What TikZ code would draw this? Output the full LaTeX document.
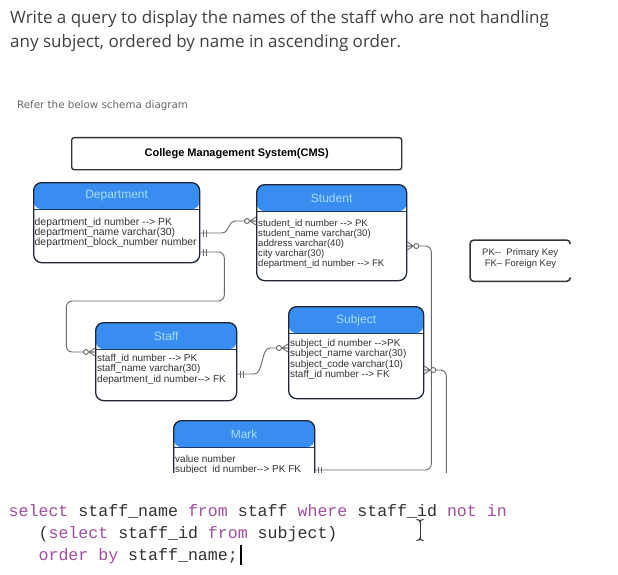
\documentclass[tikz,border=0pt]{standalone}
\usepackage{fontspec}
\setmainfont{Liberation Sans}
\newfontfamily\qfont{Open Sans}
\newfontfamily\codefont{Liberation Mono}
\newfontfamily\smallfont{DejaVu Sans}
\usetikzlibrary{calc}
\definecolor{hdrblue}{HTML}{3A8DF0}
\definecolor{hdrtext}{HTML}{A6DBFF}
\definecolor{boxline}{HTML}{1E2733}
\definecolor{hdrline}{HTML}{1B3A6B}
\definecolor{connc}{HTML}{6A6A6A}
\definecolor{kwc}{HTML}{A0509C}
\definecolor{codetext}{HTML}{333333}
\definecolor{qtext}{HTML}{404040}
\newcommand\kw[1]{\textcolor{kwc}{#1}}
\newcommand\arr{-{}->}
\tikzset{
  entity/.style={draw=boxline, line width=1.3bp, rounded corners=8bp, inner sep=0pt,
    anchor=north west, fill=white,
    path picture={\fill[hdrblue] (path picture bounding box.north west) rectangle
        ([yshift=-26.5bp]path picture bounding box.north east);
      \draw[hdrline, line width=1.3bp] ([yshift=-26.5bp]path picture bounding box.north west)
        -- ([yshift=-26.5bp]path picture bounding box.north east);}},
  ttl/.style={text=hdrtext, font=\fontsize{12bp}{14bp}\selectfont, inner sep=0pt},
  body/.style={text=black!80, font=\fontsize{10bp}{10.3bp}\selectfont, inner sep=0pt,
    align=left, anchor=north west},
  conn/.style={draw=connc, line width=0.9bp},
  mkone/.pic={\draw[conn] (3,-3.5) -- (3,3.5) (6,-3.5) -- (6,3.5);},
  mkmany/.pic={\draw[conn] (0,-4) -- (6,0) -- (0,4) (0,0) -- (6,0);
    \draw[conn, fill=white] (9,0) circle[radius=2.5bp];},
  codestyle/.style={text=codetext, font=\codefont\fontsize{16.6bp}{22bp}\selectfont,
    inner sep=0pt, anchor=base west},
  qstyle/.style={text=qtext, font=\qfont\fontsize{17bp}{20bp}\selectfont, inner sep=0pt,
    anchor=base west},
}
\begin{document}
\begin{tikzpicture}[x=1bp, y=-1bp]
\useasboundingbox (0,0) rectangle (618,575);
\fill[white] (0,0) rectangle (618,575);

% question
\node[qstyle] (q1) at (10,24) {Write a query to display the names of the staff who are not handling};
\node[qstyle] (q2) at (10,48) {any subject, ordered by name in ascending order.};
\node[text=black!60, font=\smallfont\fontsize{10.3bp}{12bp}\selectfont, inner sep=0pt, anchor=base west]
  (refer) at (17,109) {Refer the below schema diagram};

\begin{scope}
\clip (0,120) rectangle (618,472.5);
% title box
\node[draw=black!80, line width=1.4bp, rounded corners=2.5bp, minimum width=330bp,
  minimum height=32bp, anchor=north west, inner sep=0pt,
  font=\bfseries\fontsize{11bp}{13bp}\selectfont] (cms) at (71,137) {College Management System(CMS)};

% entities
\node[entity, minimum width=166bp, minimum height=80bp] (dept) at (33,182) {};
\node[entity, minimum width=150bp, minimum height=96bp] (student) at (256,184) {};
\node[entity, minimum width=141bp, minimum height=78bp] (staff) at (95,322) {};
\node[entity, minimum width=135bp, minimum height=92bp] (subject) at (288,306) {};
\node[entity, minimum width=141bp, minimum height=80bp] (mark) at (173,420) {};

\node[ttl] (deptT) at ($(dept.north)+(0,14)$) {Department};
\node[ttl] (studentT) at ($(student.north)+(0,14)$) {Student};
\node[ttl] (staffT) at ($(staff.north)+(0,14)$) {Staff};
\node[ttl] (subjectT) at ($(subject.north)+(0,14)$) {Subject};
\node[ttl] (markT) at ($(mark.north)+(0,14)$) {Mark};

\node[body, font=\fontsize{10.4bp}{10bp}\selectfont] (deptB) at ($(dept.north west)+(1.5,36)$)
  {department\_id number \arr{} PK\\department\_name varchar(30)\\department\_block\_number number};
\node[body, font=\fontsize{9.6bp}{10.2bp}\selectfont] (studentB) at ($(student.north west)+(2,35)$)
  {student\_id number \arr{} PK\\student\_name varchar(30)\\address varchar(40)\\city varchar(30)\\department\_id number \arr{} FK};
\node[body] (staffB) at ($(staff.north west)+(2,32)$)
  {staff\_id number \arr{} PK\\staff\_name varchar(30)\\department\_id number\arr{} FK};
\node[body] (subjectB) at ($(subject.north west)+(2,33)$)
  {subject\_id number \arr{}PK\\subject\_name varchar(30)\\subject\_code varchar(10)\\staff\_id number \arr{} FK};
\node[body] (markB) at ($(mark.north west)+(2,35)$)
  {value number\\subject\_id number\arr{} PK FK};

% connection points
\coordinate (d1) at ($(dept.north east)+(0,51)$);
\coordinate (d2) at ($(dept.north east)+(0,70)$);
\coordinate (s1) at ($(student.north west)+(0,37)$);
\coordinate (s2) at ($(student.north east)+(0,62)$);
\coordinate (st1) at ($(staff.north west)+(0,30)$);
\coordinate (st2) at ($(staff.north east)+(0,52)$);
\coordinate (su1) at ($(subject.north west)+(0,42)$);
\coordinate (su2) at ($(subject.north east)+(0,64)$);
\coordinate (m1) at ($(mark.north east)+(0,50)$);

% connectors
\draw[conn] (d1) -- ++(21,0) .. controls +(9,0) and +(-9,0) .. ($(s1)+(-20,0)$) -- (s1);
\draw[conn, rounded corners=6bp] (d2) -- ++(24,0) -- ++(0,49) -- ++(-158,0) |- (st1);
\draw[conn] (st2) -- ++(17,0) .. controls +(9,0) and +(-9,0) .. ($(su1)+(-18,0)$) -- (su1);
\draw[conn, rounded corners=6bp] (s2) -- ++(24,0) |- (m1);
\draw[conn, rounded corners=6bp] (su2) -- ++(22,0) -- ++(0,120);

% markers
\pic at (d1) {mkone};
\pic at (d2) {mkone};
\pic at (st2) {mkone};
\pic at (m1) {mkone};
\pic[rotate=180] at (s1) {mkmany};
\pic[rotate=180] at (st1) {mkmany};
\pic[rotate=180] at (su1) {mkmany};
\pic at (s2) {mkmany};
\pic at (su2) {mkmany};

% legend
\node[inner sep=0pt, minimum width=100bp, minimum height=41bp, anchor=north west] (legend) at (470,240) {};
\draw[draw=black!80, line width=1.5bp, rounded corners=4bp]
  ([yshift=-4bp]legend.north east) -- (legend.north east) -- (legend.north west)
  -- (legend.south west) -- (legend.south east) -- ([yshift=4bp]legend.south east);
\node[inner sep=0pt, anchor=north west, align=left, text=black!80,
  font=\fontsize{9.5bp}{11bp}\selectfont] (legendT) at ($(legend.north west)+(12,8)$)
  {PK-{}-\ \ Primary Key\\\ FK\textendash{} Foreign Key};
\end{scope}

% code
\node[codestyle] (code1) at (8.5,516) {\kw{select} staff\_name \kw{from} staff \kw{where} staff\_id \kw{not} \kw{in}};
\node[codestyle] (code2) at (8.5,538) {\phantom{xxx}(\kw{select} staff\_id \kw{from} subject)};
\node[codestyle] (code3) at (8.5,560) {\phantom{xxx}\kw{order} \kw{by} staff\_name;};
\draw[line width=1.5bp, black] ($(code3.base east)+(3,-15)$) -- ($(code3.base east)+(3,5)$);
% I-beam cursor
\draw[black!80, line width=1bp] (416.5,519.5) .. controls (419,519.5) and (420,520.5) .. (420,522)
  .. controls (420,520.5) and (421,519.5) .. (423.5,519.5);
\draw[black!80, line width=1bp] (420,522) -- (420,538);
\draw[black!80, line width=1bp] (416.5,540.5) .. controls (419,540.5) and (420,539.5) .. (420,538)
  .. controls (420,539.5) and (421,540.5) .. (423.5,540.5);
\end{tikzpicture}
\end{document}
